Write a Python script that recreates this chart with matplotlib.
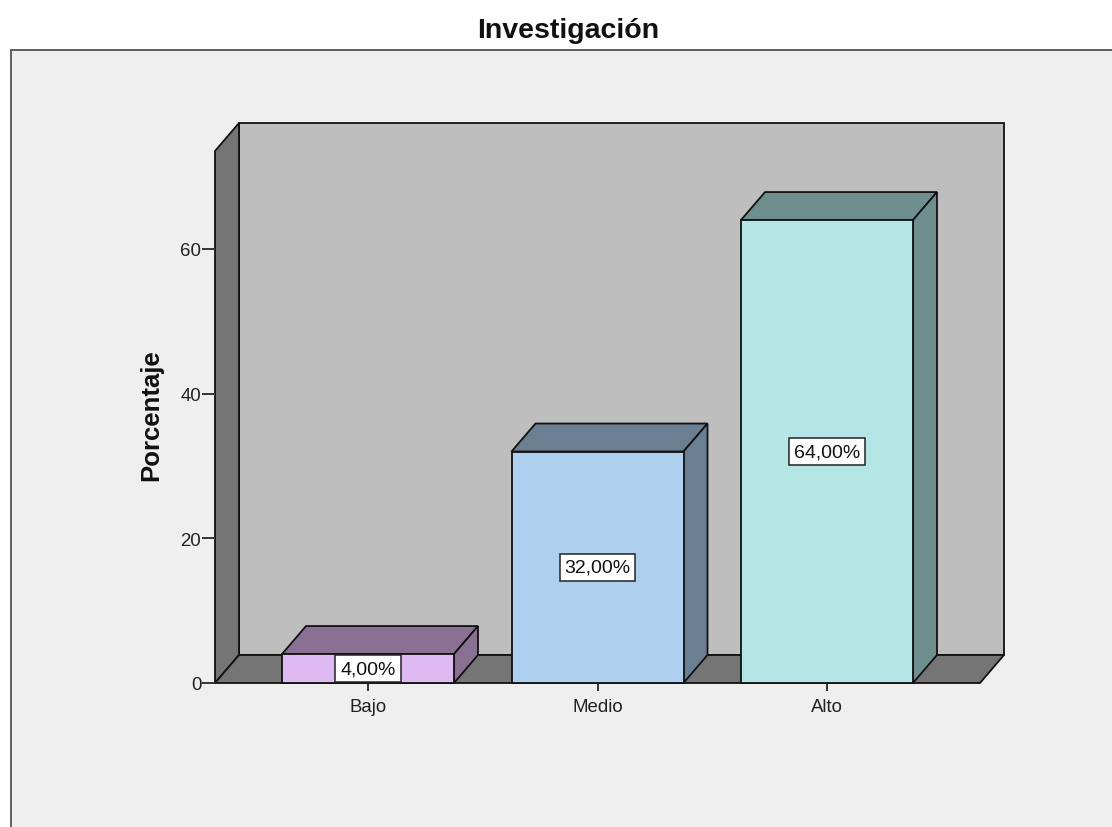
import matplotlib
matplotlib.use("Agg")
import matplotlib.pyplot as plt
from matplotlib.patches import Polygon, Rectangle

# Data
categories = ["Bajo", "Medio", "Alto"]
values = [4.0, 32.0, 64.0]
value_labels = ["4,00%", "32,00%", "64,00%"]
y_ticks = [0, 20, 40, 60]
title = "Investigación"
y_label = "Porcentaje"

# Colours
front_colors = ["#dfb9f2", "#aecfee", "#b5e6e6"]
shade_colors = ["#8a7194", "#6b7f92", "#6f8e8e"]
wall_color = "#bebebe"
floor_color = "#757575"
panel_color = "#efefef"
edge = "#111111"

W, H = 1112, 828
plt.rcParams["font.family"] = ["Liberation Sans", "DejaVu Sans"]
fig = plt.figure(figsize=(W / 100, H / 100), dpi=100, facecolor="white")

# Outer panel
fig.add_artist(Rectangle((10.5 / W, -0.1), (W + 20) / W, (H - 50.5) / H + 0.1,
                         transform=fig.transFigure, facecolor=panel_color,
                         edgecolor="#5f5f5f", linewidth=1.4, zorder=-5))

# Plot axes: pixel box of the front plane
left, right, bottom, top = 215.0, 980.0, 684.0, 152.0
ax = fig.add_axes([left / W, 1 - bottom / H, (right - left) / W, (bottom - top) / H])
px_per_cat = 229.5
px_per_val = (684 - 250) / 60
ax.set_xlim((left - 368) / px_per_cat, (right - 368) / px_per_cat)
ax.set_ylim(0, (bottom - top) / px_per_val)
ax.patch.set_visible(False)
for s in ax.spines.values():
    s.set_visible(False)

# depth offset in data units
dx = 24 / px_per_cat
dy = 28 / px_per_val
x0, x1 = ax.get_xlim()
y1 = ax.get_ylim()[1]
bw = 172 / px_per_cat
lw = 1.3


def poly(pts, fc, z):
    ax.add_patch(Polygon(pts, closed=True, facecolor=fc, edgecolor=edge,
                         linewidth=lw, joinstyle="miter", clip_on=False, zorder=z))


# Walls and floor
poly([(x0 + dx, dy), (x1 + dx, dy), (x1 + dx, y1 + dy), (x0 + dx, y1 + dy)], wall_color, 1)
poly([(x0, 0), (x0 + dx, dy), (x0 + dx, y1 + dy), (x0, y1)], floor_color, 1.1)
poly([(x0, 0), (x1, 0), (x1 + dx, dy), (x0 + dx, dy)], floor_color, 1.2)

# Bars
positions = list(range(len(categories)))
for i, v in enumerate(values):
    l, r = i - bw / 2, i + bw / 2
    poly([(l, v), (r, v), (r + dx, v + dy), (l + dx, v + dy)], shade_colors[i], 2)
    poly([(r, 0), (r + dx, dy), (r + dx, v + dy), (r, v)], shade_colors[i], 2)
ax.bar(positions, values, width=bw, color=front_colors, edgecolor=edge,
       linewidth=lw, zorder=3, clip_on=False)

# Value labels
for i, v in enumerate(values):
    ax.text(i, v / 2, value_labels[i], ha="center", va="center", fontsize=14,
            color="#111111", zorder=5,
            bbox=dict(boxstyle="square,pad=0.25", facecolor="white",
                      edgecolor="#222222", linewidth=1.1))

# Axes ticks and labels
ax.set_xticks(positions, categories)
ax.set_yticks(y_ticks)
ax.tick_params(axis="x", length=5.8, width=1.4, color="#333333", labelsize=13.4,
               labelcolor="#222222", pad=5)
ax.tick_params(axis="y", length=9.4, width=1.4, color="#333333", labelsize=13.4,
               labelcolor="#222222", pad=0.5)

fig.text(568 / W, 1 - 38 / H, title, ha="center", va="baseline", fontsize=20.5,
         fontweight="bold", color="#111111")
fig.text(158.5 / W, 1 - 415.5 / H, y_label, ha="center", va="baseline", rotation=90,
         rotation_mode="anchor", fontsize=18.5, fontweight="bold", color="#111111")

fig.savefig("out.png", dpi=100, facecolor="white")
